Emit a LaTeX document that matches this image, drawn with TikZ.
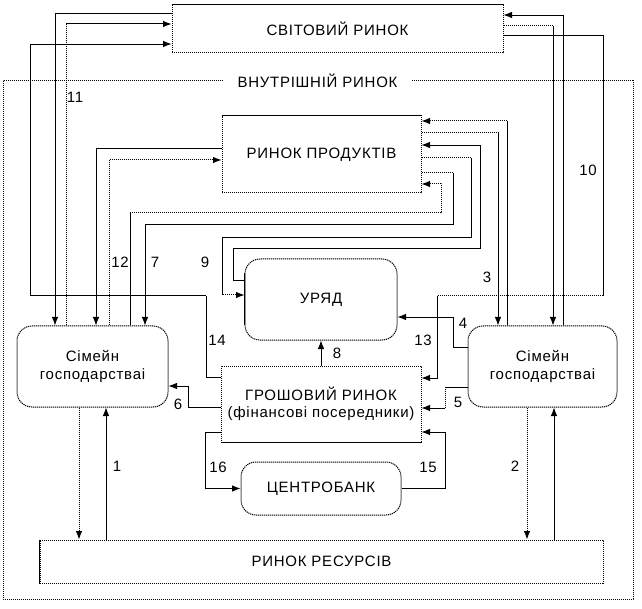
\documentclass[tikz,border=0pt]{standalone}
\usepackage{fontspec}
\setmainfont{Liberation Sans}[LetterSpace=5]
\usetikzlibrary{arrows.meta,calc}
\newcommand\lblfont{\fontsize{15}{17.5}\selectfont}
\begin{document}
\begin{tikzpicture}[x=1pt,y=-1pt,
  sol/.style={line width=0.8pt, black},
  dot/.style={line width=1pt, black, dash pattern=on 1.2pt off 0.8pt},
  box/.style={draw=black, dash pattern=on 1.2pt off 0.8pt, line width=1pt, inner sep=0pt, align=center, font=\lblfont},
  rbox/.style={box, rounded corners=15pt},
  lab/.style={font=\lblfont, inner sep=0pt},
  >={Latex[length=8.5pt,width=6.5pt,color=black]}]
\useasboundingbox (0,0) rectangle (642,609);
% outer frame
\draw[dot] (3,81) rectangle (633,599);
\node[lab, fill=white, inner xsep=15pt, inner ysep=3pt] (vnut) at (317.5,81) {ВНУТРІШНІЙ РИНОК};
% boxes
\node[box, minimum width=331pt, minimum height=48pt] (svit) at (337.5,29) {СВІТОВИЙ РИНОК};
\node[box, minimum width=199pt, minimum height=77pt] (rp) at (321.5,154.5) {РИНОК ПРОДУКТІВ};
\node[rbox, minimum width=152pt, minimum height=81pt] (uryad) at (321,299.5) {УРЯД};
\node[rbox, minimum width=151pt, minimum height=81pt] (lsim) at (92.5,366.5) {Сімейн\\господарстваі};
\node[rbox, minimum width=149pt, minimum height=81pt] (rsim) at (542.5,366.5) {Сімейн\\господарстваі};
\node[box, minimum width=200pt, minimum height=76pt] (grosh) at (321,404) {ГРОШОВИЙ РИНОК\\(фінансові посередники)};
\node[rbox, minimum width=160pt, minimum height=53pt] (cb) at (321,488.5) {ЦЕНТРОБАНК};
\node[box, minimum width=563pt, minimum height=43pt] (rr) at (321.5,561.5) {РИНОК РЕСУРСІВ};
% solid edges of boxes
\draw[sol] (svit.north west) -- (svit.north east);
\draw[sol] (rp.north west) -- (rp.north east);
\draw[sol] (grosh.south west) -- (grosh.south east);
\draw[sol] (rr.north west) -- (rr.south west);
\draw[sol] ([yshift=-15pt]uryad.north west) -- ([yshift=15pt]uryad.south west);
% world market links
\draw[dot,->] (svit.west |- 0,14) -| (55,0 |- lsim.north);
\draw[dot,->] (66,0 |- lsim.north) |- (svit.west |- 0,24);
\coordinate (c14) at (30,296);
\draw[dot] (grosh.west |- 0,377) -| (206,296) -- (c14);
\draw[sol,->] (c14) |- (svit.west |- 0,44);
\coordinate (c553) at (553,26);
\draw[dot] (svit.east |- 0,26) -- (c553);
\draw[sol,->] (c553) -- (553,0 |- rsim.north);
\draw[sol,->] (563,0 |- rsim.north) |- (svit.east |- 0,15);
\coordinate (c13a) at (603,296);
\coordinate (c13b) at (437,296);
\draw[sol] (svit.east |- 0,35) -| (c13a);
\draw[dot] (c13a) -- (c13b);
\draw[sol,->] (c13b) |- (grosh.east |- 0,378);
% product market links
\draw[sol,->] (rp.west |- 0,148) -| (96,0 |- lsim.north);
\draw[dot,->] (109,0 |- lsim.north) |- (rp.west |- 0,160);
\coordinate (c12) at (130,213);
\draw[sol] (130,0 |- lsim.north) -- (c12);
\draw[dot,->] (c12) -| (441,184) -- (rp.east |- 0,184);
\coordinate (c7) at (145,225);
\draw[dot] (rp.east |- 0,173) -| (453,225) -- (c7);
\draw[sol,->] (c7) -- (145,0 |- lsim.north);
\draw[dot,->] (rp.east |- 0,158) -| (471,238) -| (222,295) -- (uryad.west |- 0,295);
\draw[sol,->] (uryad.west |- 0,280) -| (233,248) -| (480,145) -- (rp.east |- 0,145);
\coordinate (c3) at (498,133);
\draw[dot] (rp.east |- 0,133) -- (c3);
\draw[sol,->] (c3) -- (498,0 |- rsim.north);
\coordinate (c507) at (507,121);
\draw[sol] (507,0 |- rsim.north) -- (c507);
\draw[dot,->] (c507) -- (rp.east |- 0,121);
% middle links
\coordinate (c4) at (453,317);
\draw[dot] (rsim.west |- 0,347) -| (c4);
\draw[sol,->] (c4) -- (uryad.east |- 0,317);
\coordinate (c5) at (445,408);
\draw[dot] (rsim.west |- 0,387) -| (c5);
\draw[sol,->] (c5) -- (grosh.east |- 0,408);
\draw[sol,->] (grosh.west |- 0,407) -| (188,386) -- (lsim.east |- 0,386);
\draw[sol,->] (grosh.north) -- (grosh.north |- uryad.south);
\coordinate (c16) at (205,432);
\draw[dot] (grosh.west |- 0,432) -- (c16);
\draw[sol,->] (c16) |- (cb.west);
\coordinate (c15a) at (445,0 |- cb.east);
\coordinate (c15b) at (445,432);
\draw[sol] (cb.east) -- (c15a);
\draw[dot] (c15a) -- (c15b);
\draw[sol,->] (c15b) -- (grosh.east |- 0,432);
% resource market links
\draw[dot,->] (79,0 |- lsim.south) -- (79,0 |- rr.north);
\draw[sol,->] (106,0 |- rr.north) -- (106,0 |- lsim.south);
\draw[dot,->] (527,0 |- rsim.south) -- (527,0 |- rr.north);
\draw[sol,->] (554,0 |- rr.north) -- (554,0 |- rsim.south);
% labels
\node[lab] (l11) at (75,97) {11};
\node[lab] (l10) at (588,170) {10};
\node[lab] (l12) at (120,262) {12};
\node[lab] (l7) at (155,262) {7};
\node[lab] (l9) at (205,262) {9};
\node[lab] (l3) at (487,277) {3};
\node[lab] (l14) at (217,340) {14};
\node[lab] (l13) at (423,340) {13};
\node[lab] (l4) at (463,323) {4};
\node[lab] (l8) at (337,353) {8};
\node[lab] (l6) at (178,404) {6};
\node[lab] (l5) at (458,402) {5};
\node[lab] (l16) at (218,467) {16};
\node[lab] (l15) at (428,467) {15};
\node[lab] (l1) at (117,466) {1};
\node[lab] (l2) at (515,466) {2};
\end{tikzpicture}
\end{document}
